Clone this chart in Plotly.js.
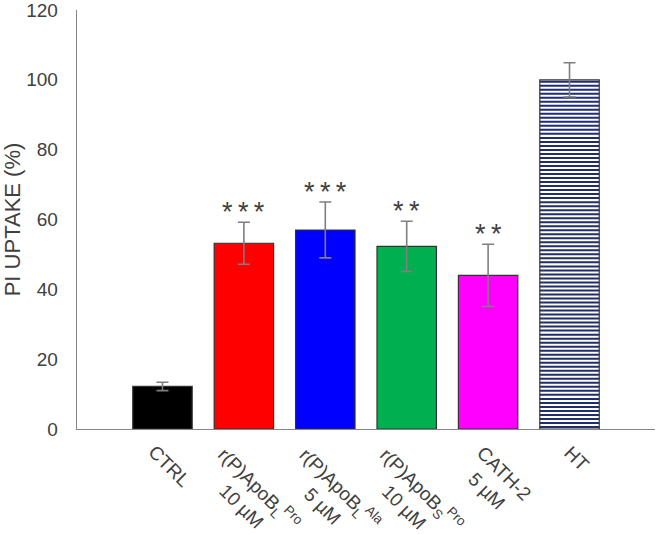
<!DOCTYPE html>
<html>
<head>
<meta charset="utf-8">
<script src="https://cdn.plot.ly/plotly-3.0.1.min.js"></script>
<style>html,body{margin:0;padding:0;background:#fff;} #chart{width:657px;height:535px;}</style>
</head>
<body>
<div id="chart"></div>
<script>
const categories = [
  "CTRL",
  "r(P)ApoB<sub>L</sub><sup>Pro</sup><br>10 µM",
  "r(P)ApoB<sub>L</sub><sup>Ala</sup><br>5 µM",
  "r(P)ApoB<sub>S</sub><sup>Pro</sup><br>10 µM",
  "CATH-2<br>5 µM",
  "HT"
];
const values = [12.2, 53.2, 57.0, 52.3, 44.0, 100.0];
const errors = [1.2, 6.0, 8.0, 7.2, 8.9, 4.9];
const significance = ["", "* * *", "* * *", "* *", "* *", ""];
const barColors = ["#000000", "#ff0000", "#0000ff", "#00b050", "#ff00ff", "rgba(255,255,255,0)"];
const hatched = [false, false, false, false, false, true];
const yTicks = [0, 20, 40, 60, 80, 100, 120];

const FONT = "Liberation Sans, Arial, sans-serif";
const BAR_W = 0.73;
const HATCH_STEP = 1.15;
const idx = categories.map((c, i) => i);

const traces = [{
  type: "bar",
  x: idx,
  y: values,
  width: BAR_W,
  marker: {color: barColors, line: {color: "#333333", width: 1.2}},
  error_y: {type: "data", array: errors, visible: true, color: "#7f7f7f", thickness: 1.6, width: 6},
  hoverinfo: "none"
}];

// horizontal hatch lines for the hatched bar(s), derived from the bar's value and width
const shapes = [];
idx.filter(i => hatched[i]).forEach(i => {
  for (let y = HATCH_STEP / 2; y < values[i] - 0.3; y += HATCH_STEP) {
    shapes.push({
      type: "line", xref: "x", yref: "y", layer: "below",
      x0: i - BAR_W / 2, x1: i + BAR_W / 2, y0: y, y1: y,
      line: {color: "#1f2c6e", width: 2}
    });
  }
});

const annotations = idx.filter(i => significance[i]).map(i => ({
  x: i, y: values[i] + errors[i], xref: "x", yref: "y",
  text: significance[i].replace(/ /g, "\u2009"), showarrow: false,
  yanchor: "bottom", yshift: -7,
  font: {family: FONT, size: 27, color: "#404040"}
}));

idx.forEach(i => annotations.push({
  x: i, y: 0, xref: "x", yref: "paper",
  text: categories[i], showarrow: false,
  textangle: 45, align: "center",
  xanchor: "center", yanchor: "top", yshift: -10, xshift: 7,
  font: {family: FONT, size: 19, color: "#404040"}
}));

const layout = {
  width: 657, height: 535,
  margin: {l: 77, r: 2, t: 10, b: 106},
  paper_bgcolor: "#ffffff", plot_bgcolor: "#ffffff",
  showlegend: false,
  font: {family: FONT, color: "#404040"},
  xaxis: {
    range: [-1.05, 6.05],
    tickmode: "array", tickvals: idx, ticktext: idx.map(() => ""),
    ticks: "", showgrid: false, zeroline: false,
    showline: true, linecolor: "#868686", linewidth: 1.3,
    fixedrange: true
  },
  yaxis: {
    range: [0, 120],
    tickmode: "array", tickvals: yTicks,
    ticks: "", showgrid: false, zeroline: false,
    showline: true, linecolor: "#868686", linewidth: 1.3,
    tickfont: {size: 19, color: "#404040"},
    ticklabelstandoff: 14,
    ticklabeloverflow: "allow",
    title: {text: "PI UPTAKE (%)", font: {size: 22, color: "#404040"}, standoff: 8},
    fixedrange: true
  },
  shapes: shapes,
  annotations: annotations
};

Plotly.newPlot("chart", traces, layout, {displayModeBar: false, staticPlot: true});
</script>
</body>
</html>
